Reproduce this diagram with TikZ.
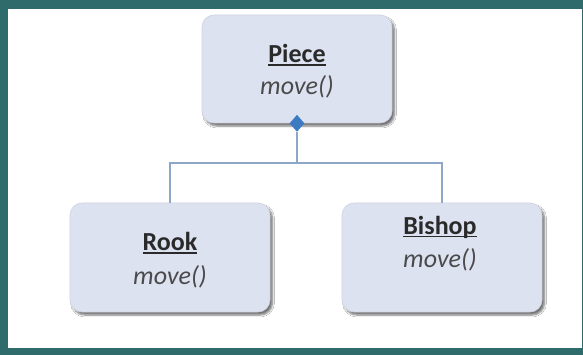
\documentclass[tikz,border=0pt]{standalone}
\usepackage{fontspec}
\setmainfont{Carlito}
\usetikzlibrary{shapes.geometric,shadows.blur}
\definecolor{frameteal}{HTML}{2F6B6B}
\definecolor{boxfill}{HTML}{DDE2F1}
\definecolor{linkblue}{HTML}{8DA8C6}
\definecolor{diamondblue}{HTML}{3C7BC2}
\definecolor{txt}{HTML}{2A2A2A}
\tikzset{
  classbox/.style={draw=boxfill!85!gray, fill=boxfill, rounded corners=12pt,
    minimum width=190pt, minimum height=108pt, line width=0.6pt,
    blur shadow={shadow xshift=2.5pt, shadow yshift=-3pt, shadow blur steps=6, shadow opacity=55}},
  link/.style={draw=linkblue, line width=1.3pt},
  agg/.style={diamond, fill=diamondblue, inner sep=0pt, minimum width=15pt, minimum height=17pt},
  title/.style={font=\fontsize{26}{30}\selectfont\bfseries, text=txt},
  op/.style={font=\fontsize{26}{30}\selectfont\itshape, text=txt!85}
}
% underline with a heavier rule
\newcommand{\thickuline}[1]{\setbox0\hbox{#1}\leavevmode\rlap{\rule[-3.2pt]{\wd0}{1.6pt}}\box0}
\begin{document}
\begin{tikzpicture}[x=1pt,y=-1pt]
  % frame and white canvas
  \useasboundingbox (0,0) rectangle (583,355);
  \fill[frameteal] (0,0) rectangle (583,355);
  \fill[white] (8,9) rectangle (582,348);

  % class boxes
  \node[classbox] (piece) at (297,69) {};
  \node[classbox, minimum width=200pt, minimum height=109pt] (rook) at (170,257.5) {};
  \node[classbox, minimum width=200pt, minimum height=109pt] (bishop) at (442,257.5) {};

  % labels
  \node[title] (pieceT) at (297,55) {\thickuline{Piece}};
  \node[op] (pieceM) at (297,87) {move()};
  \node[title] (rookT) at (170,243) {\thickuline{Rook}};
  \node[op] (rookM) at (170,277) {move()};
  \node[title] (bishopT) at (440,227) {\thickuline{Bishop}};
  \node[op] (bishopM) at (440,260) {move()};

  % aggregation connectors
  \node[agg] (dia) at (piece.south) {};
  \coordinate (hub) at (297,163);
  \draw[link] (dia.south) -- (hub);
  \draw[link] (hub) -| (rook.north);
  \draw[link] (hub) -| (bishop.north);
\end{tikzpicture}
\end{document}
